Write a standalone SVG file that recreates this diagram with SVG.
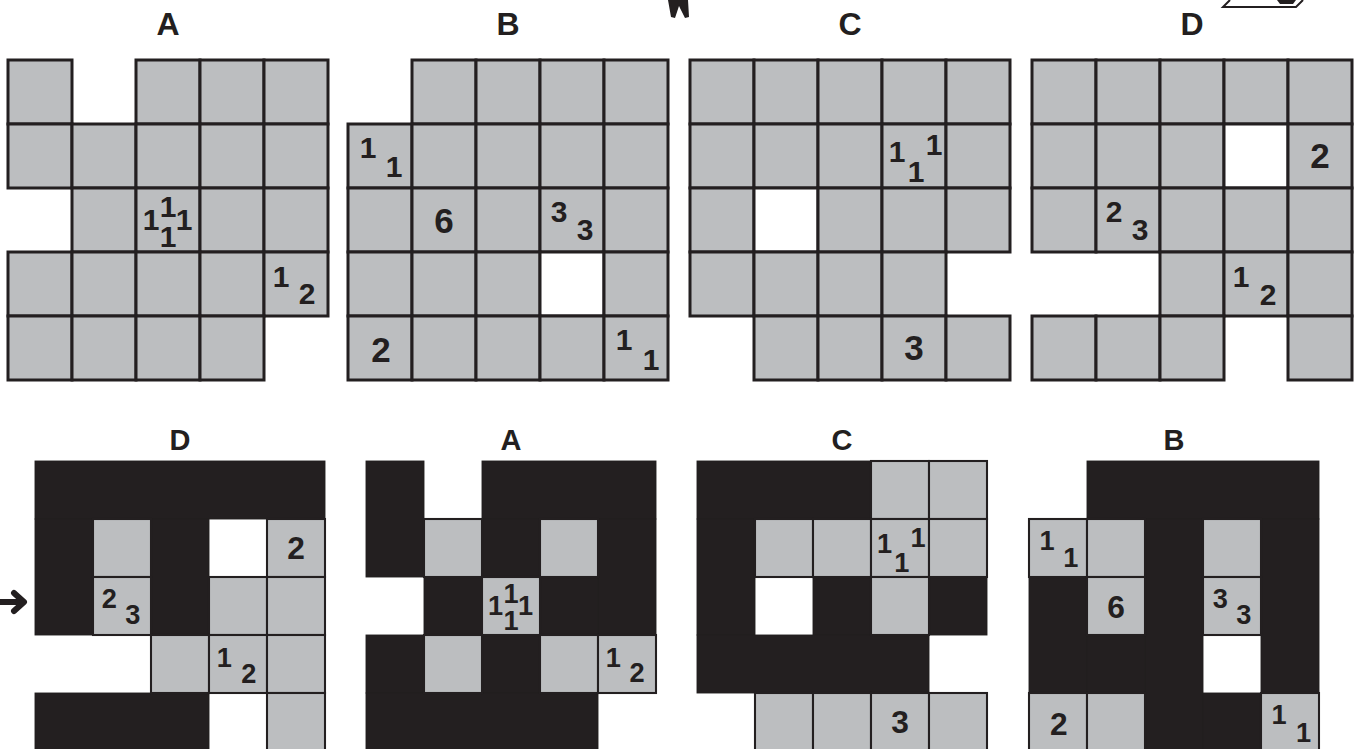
<svg xmlns="http://www.w3.org/2000/svg" width="1360" height="749" viewBox="0 0 1360 749">
<defs>
<style>
.g{fill:#bcbec0;stroke:#231f20;stroke-width:3}
.w{fill:#fff;stroke:#231f20;stroke-width:3}
.bot .g{stroke-width:2.3}
.bot .w{stroke:none}
.k{fill:#231f20;stroke:#231f20;stroke-width:1}
.n{font-family:"Liberation Sans",Arial,sans-serif;font-weight:bold;fill:#231f20;text-anchor:middle}
.s{font-size:35px}
.p{font-size:30px}
.lt{font-size:32px}
.lb{font-size:29px}
</style>
</defs>
<rect width="1360" height="749" fill="#fff"/>

<!-- cut-off marks at top edge -->
<path d="M668 0 H688 L689 17 L685 18 L679 6 L675 18 L671 17 Z" fill="#231f20"/>
<path d="M1230 0 L1223 7 H1296 L1303 0" fill="none" stroke="#231f20" stroke-width="2"/>
<path d="M1277 0 H1296 L1293 4 H1280 Z" fill="#231f20"/>

<!-- labels -->
<g id="labels" class="n">
<text class="lt" x="168" y="35">A</text>
<text class="lt" x="508" y="35">B</text>
<text class="lt" x="850" y="35">C</text>
<text class="lt" x="1192" y="35">D</text>
<text class="lb" x="180" y="450">D</text>
<text class="lb" x="511" y="450">A</text>
<text class="lb" x="842" y="450">C</text>
<text class="lb" x="1174" y="450">B</text>
</g>

<!-- Top grid A -->
<g id="topA" transform="translate(8,60)">
<rect class="g" x="0" y="0" width="64" height="64"/><rect class="g" x="128" y="0" width="64" height="64"/><rect class="g" x="192" y="0" width="64" height="64"/><rect class="g" x="256" y="0" width="64" height="64"/>
<rect class="g" x="0" y="64" width="64" height="64"/><rect class="g" x="64" y="64" width="64" height="64"/><rect class="g" x="128" y="64" width="64" height="64"/><rect class="g" x="192" y="64" width="64" height="64"/><rect class="g" x="256" y="64" width="64" height="64"/>
<rect class="g" x="64" y="128" width="64" height="64"/><rect class="g" x="128" y="128" width="64" height="64"/><rect class="g" x="192" y="128" width="64" height="64"/><rect class="g" x="256" y="128" width="64" height="64"/>
<rect class="g" x="0" y="192" width="64" height="64"/><rect class="g" x="64" y="192" width="64" height="64"/><rect class="g" x="128" y="192" width="64" height="64"/><rect class="g" x="192" y="192" width="64" height="64"/><rect class="g" x="256" y="192" width="64" height="64"/>
<rect class="g" x="0" y="256" width="64" height="64"/><rect class="g" x="64" y="256" width="64" height="64"/><rect class="g" x="128" y="256" width="64" height="64"/><rect class="g" x="192" y="256" width="64" height="64"/>
<g class="n p">
<text x="143" y="170">1</text><text x="160" y="157">1</text><text x="160" y="187">1</text><text x="176" y="170">1</text>
<text x="273" y="227">1</text><text x="299" y="244">2</text>
</g>
</g>

<!-- Top grid B -->
<g id="topB" transform="translate(348,60)">
<rect class="g" x="64" y="0" width="64" height="64"/><rect class="g" x="128" y="0" width="64" height="64"/><rect class="g" x="192" y="0" width="64" height="64"/><rect class="g" x="256" y="0" width="64" height="64"/>
<rect class="g" x="0" y="64" width="64" height="64"/><rect class="g" x="64" y="64" width="64" height="64"/><rect class="g" x="128" y="64" width="64" height="64"/><rect class="g" x="192" y="64" width="64" height="64"/><rect class="g" x="256" y="64" width="64" height="64"/>
<rect class="g" x="0" y="128" width="64" height="64"/><rect class="g" x="64" y="128" width="64" height="64"/><rect class="g" x="128" y="128" width="64" height="64"/><rect class="g" x="192" y="128" width="64" height="64"/><rect class="g" x="256" y="128" width="64" height="64"/>
<rect class="g" x="0" y="192" width="64" height="64"/><rect class="g" x="64" y="192" width="64" height="64"/><rect class="g" x="128" y="192" width="64" height="64"/><rect class="w" x="192" y="192" width="64" height="64"/><rect class="g" x="256" y="192" width="64" height="64"/>
<rect class="g" x="0" y="256" width="64" height="64"/><rect class="g" x="64" y="256" width="64" height="64"/><rect class="g" x="128" y="256" width="64" height="64"/><rect class="g" x="192" y="256" width="64" height="64"/><rect class="g" x="256" y="256" width="64" height="64"/>
<g class="n p">
<text x="20" y="98">1</text><text x="46" y="117">1</text>
<text x="211" y="162">3</text><text x="237" y="180">3</text>
<text x="276" y="290">1</text><text x="303" y="310">1</text>
</g>
<g class="n s">
<text x="96" y="173">6</text><text x="33" y="302">2</text>
</g>
</g>

<!-- Top grid C -->
<g id="topC" transform="translate(690,60)">
<rect class="g" x="0" y="0" width="64" height="64"/><rect class="g" x="64" y="0" width="64" height="64"/><rect class="g" x="128" y="0" width="64" height="64"/><rect class="g" x="192" y="0" width="64" height="64"/><rect class="g" x="256" y="0" width="64" height="64"/>
<rect class="g" x="0" y="64" width="64" height="64"/><rect class="g" x="64" y="64" width="64" height="64"/><rect class="g" x="128" y="64" width="64" height="64"/><rect class="g" x="192" y="64" width="64" height="64"/><rect class="g" x="256" y="64" width="64" height="64"/>
<rect class="g" x="0" y="128" width="64" height="64"/><rect class="w" x="64" y="128" width="64" height="64"/><rect class="g" x="128" y="128" width="64" height="64"/><rect class="g" x="192" y="128" width="64" height="64"/><rect class="g" x="256" y="128" width="64" height="64"/>
<rect class="g" x="0" y="192" width="64" height="64"/><rect class="g" x="64" y="192" width="64" height="64"/><rect class="g" x="128" y="192" width="64" height="64"/><rect class="g" x="192" y="192" width="64" height="64"/>
<rect class="g" x="64" y="256" width="64" height="64"/><rect class="g" x="128" y="256" width="64" height="64"/><rect class="g" x="192" y="256" width="64" height="64"/><rect class="g" x="256" y="256" width="64" height="64"/>
<g class="n p">
<text x="207" y="102">1</text><text x="226" y="122">1</text><text x="244" y="95">1</text>
</g>
<text class="n s" x="224" y="300">3</text>
</g>

<!-- Top grid D -->
<g id="topD" transform="translate(1032,60)">
<rect class="g" x="0" y="0" width="64" height="64"/><rect class="g" x="64" y="0" width="64" height="64"/><rect class="g" x="128" y="0" width="64" height="64"/><rect class="g" x="192" y="0" width="64" height="64"/><rect class="g" x="256" y="0" width="64" height="64"/>
<rect class="g" x="0" y="64" width="64" height="64"/><rect class="g" x="64" y="64" width="64" height="64"/><rect class="g" x="128" y="64" width="64" height="64"/><rect class="w" x="192" y="64" width="64" height="64"/><rect class="g" x="256" y="64" width="64" height="64"/>
<rect class="g" x="0" y="128" width="64" height="64"/><rect class="g" x="64" y="128" width="64" height="64"/><rect class="g" x="128" y="128" width="64" height="64"/><rect class="g" x="192" y="128" width="64" height="64"/><rect class="g" x="256" y="128" width="64" height="64"/>
<rect class="g" x="128" y="192" width="64" height="64"/><rect class="g" x="192" y="192" width="64" height="64"/><rect class="g" x="256" y="192" width="64" height="64"/>
<rect class="g" x="0" y="256" width="64" height="64"/><rect class="g" x="64" y="256" width="64" height="64"/><rect class="g" x="128" y="256" width="64" height="64"/><rect class="g" x="256" y="256" width="64" height="64"/>
<text class="n s" x="288" y="108">2</text>
<g class="n p">
<text x="82" y="162">2</text><text x="108" y="180">3</text>
<text x="209" y="227">1</text><text x="236" y="245">2</text>
</g>
</g>

<!-- Bottom grid D -->
<g id="botD" class="bot" transform="translate(35,461) scale(0.90625)">
<rect class="w" x="192" y="64" width="64" height="64"/>
<rect class="k" x="0" y="0" width="320" height="64"/>
<rect class="k" x="0" y="64" width="64" height="128"/>
<rect class="k" x="128" y="64" width="64" height="128"/>
<rect class="k" x="0" y="256" width="192" height="64"/>
<rect class="g" x="64" y="64" width="64" height="64"/><rect class="g" x="256" y="64" width="64" height="64"/>
<rect class="g" x="64" y="128" width="64" height="64"/><rect class="g" x="192" y="128" width="64" height="64"/><rect class="g" x="256" y="128" width="64" height="64"/>
<rect class="g" x="128" y="192" width="64" height="64"/><rect class="g" x="192" y="192" width="64" height="64"/><rect class="g" x="256" y="192" width="64" height="64"/>
<rect class="g" x="256" y="256" width="64" height="64"/>
<text class="n s" x="288" y="108">2</text>
<g class="n p">
<text x="82" y="162">2</text><text x="108" y="180">3</text>
<text x="209" y="227">1</text><text x="236" y="245">2</text>
</g>
</g>

<!-- Bottom grid A -->
<g id="botA" class="bot" transform="translate(366,461) scale(0.90625)">
<rect class="k" x="0" y="0" width="64" height="128"/>
<rect class="k" x="128" y="0" width="192" height="64"/>
<rect class="k" x="128" y="64" width="64" height="64"/>
<rect class="k" x="256" y="64" width="64" height="128"/>
<rect class="k" x="64" y="128" width="64" height="64"/>
<rect class="k" x="192" y="128" width="64" height="64"/>
<rect class="k" x="0" y="192" width="64" height="64"/>
<rect class="k" x="128" y="192" width="64" height="64"/>
<rect class="k" x="0" y="256" width="256" height="64"/>
<rect class="g" x="64" y="64" width="64" height="64"/><rect class="g" x="192" y="64" width="64" height="64"/>
<rect class="g" x="128" y="128" width="64" height="64"/>
<rect class="g" x="64" y="192" width="64" height="64"/><rect class="g" x="192" y="192" width="64" height="64"/><rect class="g" x="256" y="192" width="64" height="64"/>
<g class="n p">
<text x="143" y="170">1</text><text x="160" y="157">1</text><text x="160" y="187">1</text><text x="176" y="170">1</text>
<text x="273" y="227">1</text><text x="299" y="244">2</text>
</g>
</g>

<!-- Bottom grid C -->
<g id="botC" class="bot" transform="translate(697,461) scale(0.90625)">
<rect class="w" x="64" y="128" width="64" height="64"/>
<rect class="k" x="0" y="0" width="192" height="64"/>
<rect class="k" x="0" y="64" width="64" height="128"/>
<rect class="k" x="128" y="128" width="64" height="64"/>
<rect class="k" x="256" y="128" width="64" height="64"/>
<rect class="k" x="0" y="192" width="256" height="64"/>
<rect class="g" x="192" y="0" width="64" height="64"/><rect class="g" x="256" y="0" width="64" height="64"/>
<rect class="g" x="64" y="64" width="64" height="64"/><rect class="g" x="128" y="64" width="64" height="64"/><rect class="g" x="192" y="64" width="64" height="64"/><rect class="g" x="256" y="64" width="64" height="64"/>
<rect class="g" x="192" y="128" width="64" height="64"/>
<rect class="g" x="64" y="256" width="64" height="64"/><rect class="g" x="128" y="256" width="64" height="64"/><rect class="g" x="192" y="256" width="64" height="64"/><rect class="g" x="256" y="256" width="64" height="64"/>
<g class="n p">
<text x="207" y="102">1</text><text x="226" y="122">1</text><text x="244" y="95">1</text>
</g>
<text class="n s" x="224" y="300">3</text>
</g>

<!-- Bottom grid B -->
<g id="botB" class="bot" transform="translate(1029,461) scale(0.90625)">
<rect class="w" x="192" y="192" width="64" height="64"/>
<rect class="k" x="64" y="0" width="256" height="64"/>
<rect class="k" x="128" y="64" width="64" height="256"/>
<rect class="k" x="256" y="64" width="64" height="192"/>
<rect class="k" x="0" y="128" width="64" height="128"/>
<rect class="k" x="64" y="192" width="64" height="64"/>
<rect class="k" x="192" y="256" width="64" height="64"/>
<rect class="g" x="0" y="64" width="64" height="64"/><rect class="g" x="64" y="64" width="64" height="64"/><rect class="g" x="192" y="64" width="64" height="64"/>
<rect class="g" x="64" y="128" width="64" height="64"/><rect class="g" x="192" y="128" width="64" height="64"/>
<rect class="g" x="0" y="256" width="64" height="64"/><rect class="g" x="64" y="256" width="64" height="64"/><rect class="g" x="256" y="256" width="64" height="64"/>
<g class="n p">
<text x="20" y="98">1</text><text x="46" y="117">1</text>
<text x="211" y="162">3</text><text x="237" y="180">3</text>
<text x="276" y="290">1</text><text x="303" y="310">1</text>
</g>
<g class="n s">
<text x="96" y="173">6</text><text x="33" y="302">2</text>
</g>
</g>

<!-- arrow -->
<g id="connectors">
<path d="M1 602 H22 M14 593 L24 602 L14 611" fill="none" stroke="#231f20" stroke-width="6" stroke-linecap="round" stroke-linejoin="round"/>
</g>
</svg>
